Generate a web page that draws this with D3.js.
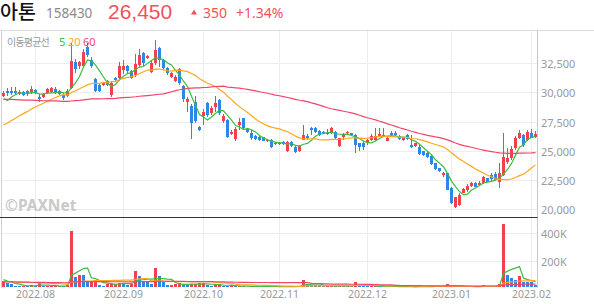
<!DOCTYPE html>
<html>
<head>
<meta charset="utf-8">
<script src="https://cdn.jsdelivr.net/npm/d3@7"></script>
<style>
  body { margin: 0; background: #fff; }
  svg { display: block; font-family: "Noto Sans", "Noto Sans CJK KR", sans-serif; }
</style>
</head>
<body>
<svg id="chart" width="594" height="304"></svg>
<script>
// trading days shown, per month
var months = ["2022.07", "2022.08", "2022.09", "2022.10", "2022.11", "2022.12", "2023.01", "2023.02"];
var monthDays = [
  [20,21,22,25,26,27,28,29],
  [1,2,3,4,5,8,9,10,11,12,16,17,18,19,22,23,24,25,26,29,30,31],
  [1,2,5,6,7,8,13,14,15,16,19,20,21,22,23,26,27,28,29,30],
  [4,5,6,7,11,12,13,14,17,18,19,20,21,24,25,26,27,28,31],
  [1,2,3,4,7,8,9,10,11,14,15,16,17,18,21,22,23,24,25,28,29,30],
  [1,2,5,6,7,8,9,12,13,14,15,16,19,20,21,22,23,26,27,28,29],
  [2,3,4,5,6,9,10,11,12,13,16,17,18,19,20,25,26,27,30,31],
  [1,2]
];

var open = [29690,30120,30120,30120,29860,30000,30120,29970,30200,29630,29630,29970,30060,30260,30120,29780,29690,30350,32580,32260,
  32260,33920,32800,31150,30630,30630,31000,29780,31230,31230,31940,32230,31800,31500,32370,33350,32950,31780,32500,33780,
  32780,32090,31300,31000,31980,30520,29200,28830,29200,27000,28000,29060,28210,28720,29350,27530,27630,26430,25970,27200,
  27780,26860,26540,26260,26150,26150,25810,25920,25580,25580,25750,25000,25720,25340,25000,25920,26260,26920,26920,26720,
  26630,26410,26540,26630,25430,26200,26490,26490,26350,25630,25690,25630,25920,25920,26260,26350,25860,26490,26540,26260,
  25920,26350,25490,25400,25340,24960,24830,24550,23920,23490,22920,23060,21800,20200,20340,21400,21630,21970,22200,22060,
  22200,22630,22920,22980,22340,22920,24060,24350,25200,26060,26350,25920,26540,26150];
var high = [30120,30350,30440,30440,30200,30100,30200,30550,30300,29850,29950,30400,30450,30450,30200,29950,30260,34210,32860,32700,
  33750,34200,33000,31200,30700,30900,31100,31000,31300,32600,32750,32320,31900,33300,33700,33500,33200,32700,34500,33900,
  32900,32200,31750,31500,32100,30600,29600,29000,29700,27100,28600,29200,28800,29720,29400,28150,27750,26800,27000,27800,
  27800,26950,26800,26350,26300,26200,26000,26000,25750,25750,25800,25800,25800,25400,25450,27200,26400,27000,27060,26800,
  26700,26900,27000,26700,26100,26550,26700,26550,26400,25700,25800,26000,26400,26920,26920,26920,26150,26650,26700,26350,
  26200,26400,26350,25700,25450,25000,24900,24600,23950,23550,23200,23100,21850,21050,21400,21800,22150,22350,22300,22400,
  22850,22700,23050,23200,23930,26490,25200,25400,26300,26770,26450,26780,26900,26700];
var low = [29580,29690,29780,29780,29780,29690,29700,29860,29900,29150,29550,29900,29970,29900,29780,29350,29600,30300,31700,32000,
  32180,33060,32100,30050,30000,30550,30550,29600,30950,30960,31600,31630,31150,31300,32200,32300,32900,31650,32350,32200,
  31900,31500,31200,30900,30650,29200,28300,26030,27400,26700,27200,27900,28100,28340,28060,27400,26050,26350,25800,26800,
  26780,26550,25890,25900,25850,25800,25750,25200,25500,25500,25500,24900,25300,24770,24900,25900,25950,26350,26500,26300,
  26400,26350,26450,26000,25350,25950,26400,26300,24800,24970,25100,25500,25850,25800,26200,26150,25800,26300,26300,25900,
  25850,25900,25250,25350,24600,24550,24400,23800,23350,23200,22780,21600,20450,20100,20300,21350,21450,21900,21850,22000,
  22150,22300,22400,22450,21830,22800,23900,24200,25100,26000,25300,25850,26050,26050];
var close = [29920,29970,29970,29920,30060,29780,29860,30260,29970,29400,29830,30260,30350,29970,29830,29490,30120,32690,31980,32580,
  33490,33200,32300,30150,30140,30830,30630,30780,31030,32230,32230,31800,31230,32400,33210,32500,33120,32500,33640,32780,
  32090,31640,31640,31350,30780,29400,29400,27400,27570,26780,28340,28060,28690,29120,28210,28020,26150,26630,26890,27490,
  26920,26630,26060,25980,25920,25860,25920,25290,25690,25690,25580,25720,25400,24910,25400,26350,26060,26780,26630,26350,
  26490,26540,26920,26060,26060,26430,26630,26350,25490,25340,25340,25920,26260,26290,26430,26200,26060,26350,26350,25980,
  26120,25980,25290,25630,24720,24630,24490,23860,23400,23290,23110,21630,20540,21000,21200,21690,21970,22260,21910,22260,
  22770,22340,22550,22490,23060,24490,24350,25150,26060,26490,25500,26580,26100,26450];
var volume = [49000,37000,30000,12000,11000,18000,12000,25000,12000,42000,12000,14000,15000,16000,13000,12000,20000,418000,81000,98000,
  93000,44000,54000,58000,20000,18000,30000,31000,32000,40000,37000,20000,30000,123000,86000,44000,42000,30000,143000,86000,
  44000,20000,21000,30000,37000,25000,20000,30000,32000,33000,35000,20000,18000,25000,30000,15000,12000,20000,12000,14000,
  12000,10000,14000,12000,10000,12000,10000,12000,10000,8000,10000,12000,10000,9000,15000,62000,30000,25000,22000,20000,
  12000,15000,18000,14000,16000,13000,12000,15000,42000,20000,15000,12000,14000,16000,13000,12000,10000,12000,10000,8000,
  9000,8000,10000,9000,12000,10000,9000,12000,14000,10000,12000,28000,18000,14000,12000,10000,11000,9000,10000,12000,
  20000,12000,10000,12000,30000,467000,98000,74000,57000,86000,44000,43000,42000,20000];

// closes and volumes before the first visible day, used only by the moving averages
var priorCloses = [30200,30450,30800,31050,30900,30600,30350,30500,30750,30900,30650,30400,30300,30550,30800,30700,30500,30450,30650,30850,
  30600,30400,30150,29900,30050,30300,30200,29950,30100,30350,30500,30250,30400,
  30650,30900,31100,30850,30600,30700,30300,
  26300,25800,25900,26100,25950,26050,26200,26100,
  26400,26700,26900,27000,26800,27100,27300,
  30900,28400,28900,29300];
var priorVolumes = [40000,38000,45000,52000,36000,41000,47000,39000,44000,50000,42000,37000,48000,43000,39000,46000,41000,38000,44000,49000,
  42000,40000,47000,51000,38000,43000,45000,39000,41000,48000,44000,40000,46000,42000,38000,45000,50000,43000,41000,39000,
  44000,47000,40000,42000,46000,38000,43000,41000,45000,48000,39000,42000,44000,40000,46000,
  90000,70000,55000,40000];

var maPeriods = [5, 20, 60];
var maColors = ["#3dbd3d", "#ffa620", "#f2456b"];
var legendX = [59, 68, 83];
var yTicks = [20000, 22500, 25000, 27500, 30000, 32500];
var volTicks = [200000, 400000];

var upColor = "#f2404c";
var downColor = "#2b87e8";

var dates = [];
months.forEach(function(m, mi) {
  monthDays[mi].forEach(function(d) { dates.push(m + "." + (d < 10 ? "0" + d : d)); });
});
var monthStarts = months.slice(1).map(function(m, k) { return m + "." + (monthDays[k + 1][0] < 10 ? "0" : "") + monthDays[k + 1][0]; });

function movingAvg(series, prior, n) {
  var all = prior.concat(series), off = prior.length;
  return series.map(function(_, i) {
    var s = 0;
    for (var k = i + off - n + 1; k <= i + off; k++) s += all[k];
    return s / n;
  });
}

var svg = d3.select("#chart");
var left = 1.5, right = 537.5;
var priceTop = 31, priceBottom = 217, volBottom = 288;

var x = d3.scaleBand().domain(dates).range([left, right]).padding(0);
var cx = function(d) { return x(d) + x.bandwidth() / 2; };
var y = d3.scaleLinear().domain([20000, 32500]).range([209, 63.3]);
var yv = d3.scaleLinear().domain([0, 400000]).range([volBottom, 233.3]);

var defs = svg.append("defs");
defs.append("clipPath").attr("id", "clipPrice").append("rect")
    .attr("x", 2).attr("y", priceTop).attr("width", right - 2).attr("height", priceBottom - priceTop);
defs.append("clipPath").attr("id", "clipVol").append("rect")
    .attr("x", 2).attr("y", priceBottom).attr("width", right - 2).attr("height", volBottom - priceBottom);

// grid
var grid = svg.append("g").attr("stroke", "#ededed").attr("shape-rendering", "crispEdges");
grid.selectAll(".hp").data(yTicks).enter().append("line")
    .attr("x1", 2).attr("x2", right).attr("y1", function(d) { return Math.round(y(d)) + 0.5; }).attr("y2", function(d) { return Math.round(y(d)) + 0.5; });
grid.selectAll(".hv").data(volTicks).enter().append("line")
    .attr("x1", 2).attr("x2", right).attr("y1", function(d) { return Math.round(yv(d)) + 0.5; }).attr("y2", function(d) { return Math.round(yv(d)) + 0.5; });
grid.selectAll(".vx").data(monthStarts).enter().append("line")
    .attr("x1", function(d) { return Math.floor(cx(d)) + 0.5; }).attr("x2", function(d) { return Math.floor(cx(d)) + 0.5; })
    .attr("y1", priceTop).attr("y2", volBottom);

// watermark
svg.append("text").attr("x", 5).attr("y", 211).attr("font-size", 15.5).attr("font-weight", 700)
    .attr("fill", "#c9c9c9").text("©PAXNet");

// candles
var idx = d3.range(dates.length);
var cg = svg.append("g").attr("clip-path", "url(#clipPrice)").attr("shape-rendering", "crispEdges");
cg.selectAll(".wick").data(idx).enter().append("rect")
    .attr("x", function(i) { return Math.floor(cx(dates[i])); })
    .attr("width", 1)
    .attr("y", function(i) { return y(high[i]); })
    .attr("height", function(i) { return Math.max(1, y(low[i]) - y(high[i])); })
    .attr("fill", function(i) { return close[i] >= open[i] ? upColor : downColor; });
cg.selectAll(".body").data(idx).enter().append("rect")
    .attr("x", function(i) { return Math.floor(cx(dates[i])) - 1; })
    .attr("width", 3)
    .attr("y", function(i) { return y(Math.max(open[i], close[i])); })
    .attr("height", function(i) { return Math.max(1, Math.abs(y(open[i]) - y(close[i]))); })
    .attr("fill", function(i) { return close[i] >= open[i] ? upColor : downColor; });

// price moving averages
var lg = svg.append("g").attr("clip-path", "url(#clipPrice)").attr("fill", "none");
maPeriods.forEach(function(n, k) {
  var ma = movingAvg(close, priorCloses, n);
  lg.append("path").attr("stroke", maColors[k]).attr("stroke-width", 1.2)
      .attr("d", d3.line().x(function(v, i) { return cx(dates[i]); }).y(function(v) { return y(v); })(ma));
});

// volume bars, coloured by change against previous volume
var allVol = priorVolumes.concat(volume);
var vg = svg.append("g").attr("clip-path", "url(#clipVol)").attr("shape-rendering", "crispEdges");
vg.selectAll(".vol").data(idx).enter().append("rect")
    .attr("x", function(i) { return Math.floor(cx(dates[i])) - 1; })
    .attr("width", 3)
    .attr("y", function(i) { return yv(volume[i]); })
    .attr("height", function(i) { return volBottom - 1 - yv(volume[i]); })
    .attr("fill", function(i) { return volume[i] >= allVol[i + priorVolumes.length - 1] ? upColor : downColor; });

var vlg = svg.append("g").attr("clip-path", "url(#clipVol)").attr("fill", "none");
maPeriods.forEach(function(n, k) {
  var ma = movingAvg(volume, priorVolumes, n);
  vlg.append("path").attr("stroke", maColors[k]).attr("stroke-width", 1.2)
      .attr("d", d3.line().x(function(v, i) { return cx(dates[i]); }).y(function(v) { return yv(v); })(ma));
});

// frame lines
svg.append("line").attr("x1", 0).attr("x2", 594).attr("y1", 30.5).attr("y2", 30.5).attr("stroke", "#dcdcdc");
svg.append("line").attr("x1", 1.5).attr("x2", 1.5).attr("y1", priceTop).attr("y2", volBottom).attr("stroke", "#cfcfcf");
svg.append("line").attr("x1", right).attr("x2", right).attr("y1", priceTop).attr("y2", volBottom).attr("stroke", "#c8c8c8");
svg.append("line").attr("x1", 0).attr("x2", right).attr("y1", priceBottom + 0.5).attr("y2", priceBottom + 0.5).attr("stroke", "#333");

// axis labels
var fmt = d3.format(",");
svg.append("g").selectAll("text").data(yTicks).enter().append("text")
    .attr("x", 541).attr("y", function(d) { return y(d) + 5; })
    .attr("font-size", 11).attr("fill", "#9a9a9a").text(function(d) { return fmt(d); });
svg.append("g").selectAll("text").data(volTicks).enter().append("text")
    .attr("x", 541).attr("y", function(d) { return yv(d) + 5; })
    .attr("font-size", 11).attr("fill", "#9a9a9a").text(function(d) { return (d / 1000) + "K"; });
svg.append("g").selectAll("text").data(monthStarts).enter().append("text")
    .attr("x", function(d) { return cx(d); }).attr("y", 297.5).attr("text-anchor", "middle")
    .attr("font-size", 10.5).attr("fill", "#9a9a9a").text(function(d) { return d.slice(0, 7); });

// legend
svg.append("text").attr("x", 7).attr("y", 46).attr("font-size", 10).attr("letter-spacing", -0.8)
    .attr("font-family", "'Noto Sans CJK KR', sans-serif").attr("fill", "#9a9a9a").text("이동평균선");
svg.append("g").selectAll("text").data(maPeriods).enter().append("text")
    .attr("x", function(d, k) { return legendX[k]; }).attr("y", 46).attr("font-size", 11)
    .attr("fill", function(d, k) { return maColors[k]; }).text(function(d) { return d; });

// header
var hdr = svg.append("g");
hdr.append("text").attr("x", 0).attr("y", 18.5).attr("font-size", 19.5).attr("font-weight", 500)
    .attr("font-family", "'Liberation Sans', 'Noto Sans CJK KR', sans-serif").attr("fill", "#111").text("아톤");
hdr.append("text").attr("x", 46).attr("y", 17.5).attr("font-size", 13.5).attr("fill", "#8a8a8a").text("158430");
hdr.append("text").attr("x", 108).attr("y", 19).attr("font-size", 21).attr("font-family", "'Liberation Sans', sans-serif")
    .attr("fill", "#f4505b").text("26,450");
hdr.append("path").attr("d", "M191,14.5 L194,9.5 L197,14.5 Z").attr("fill", "#f4505b");
hdr.append("text").attr("x", 203).attr("y", 17.5).attr("font-size", 14).attr("fill", "#f4505b").text("350");
hdr.append("text").attr("x", 236).attr("y", 17.5).attr("font-size", 14).attr("fill", "#f4505b").text("+1.34%");
</script>
</body>
</html>
